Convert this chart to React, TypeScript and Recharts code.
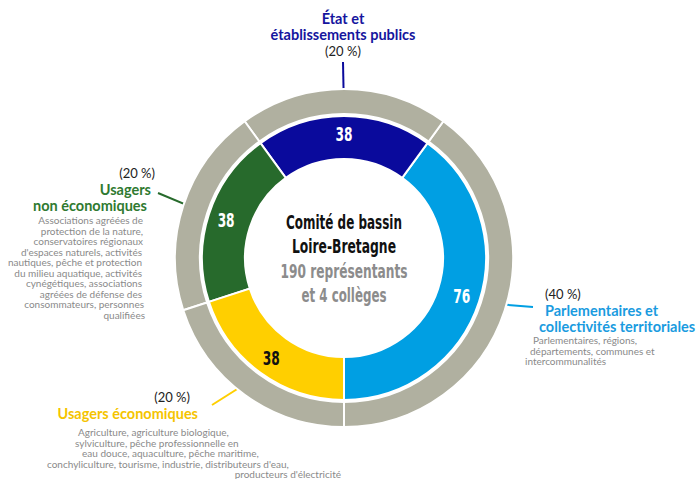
import { Cell, Customized, Pie, PieChart } from "recharts";

const groups = [
  "Parlementaires et collectivités territoriales",
  "État et établissements publics",
  "Usagers non économiques",
  "Usagers économiques",
];
const seats = [76, 38, 38, 38];
const shares = ["(40 %)", "(20 %)", "(20 %)", "(20 %)"];

const titleLines = [
  ["Parlementaires et", "collectivités territoriales"],
  ["État et", "établissements publics"],
  ["Usagers", "non économiques"],
  ["Usagers économiques"],
];

const detailLines = [
  ["Parlementaires, régions,", "départements, communes et", "intercommunalités"],
  [],
  [
    "Associations agréées de",
    "protection de la nature,",
    "conservatoires régionaux",
    "d'espaces naturels, activités",
    "nautiques, pêche et protection",
    "du milieu aquatique, activités",
    "cynégétiques, associations",
    "agréées de défense des",
    "consommateurs, personnes",
    "qualifiées",
  ],
  [
    "Agriculture, agriculture biologique,",
    "sylviculture, pêche professionnelle en",
    "eau douce, aquaculture, pêche maritime,",
    "conchyliculture, tourisme, industrie, distributeurs d'eau,",
    "producteurs d'électricité",
  ],
];

const centerLines = ["Comité de bassin", "Loire-Bretagne", "190 représentants", "et 4 collèges"];

const COLORS = ["#009fe3", "#0a0a9c", "#276a2c", "#ffcf00"];
const TITLE_COLORS = ["#1a9be0", "#15159e", "#2f7a30", "#f5c400"];
const RING = "#b0b0a0";
const NARROW = "'DejaVu Sans Condensed', 'Liberation Sans Narrow', sans-serif";
const SANS = "Lato, 'Open Sans', sans-serif";
const CX = 344;
const CY = 258;
const RAD = Math.PI / 180;
// largeurs mesurées des lignes centrales (police condensée)
const CENTER_WIDTHS = [116, 104, 127, 85];

const data = groups.map((g, i) => ({ name: g, value: seats[i] }));

function polar(angle: number, r: number) {
  return [CX + r * Math.cos(-angle * RAD), CY + r * Math.sin(-angle * RAD)];
}

// angles médians des secteurs (départ en bas, sens antihoraire)
function midAngles() {
  const total = seats.reduce((a, b) => a + b, 0);
  let start = -90;
  return seats.map((v) => {
    const span = (v / total) * 360;
    const m = start + span / 2;
    start += span;
    return m;
  });
}

const renderSeat = (p: any) => {
  const r = p.innerRadius + (p.outerRadius - p.innerRadius) * 0.58;
  const x = p.cx + r * Math.cos(-p.midAngle * RAD);
  const y = p.cy + r * Math.sin(-p.midAngle * RAD);
  const dark = p.payload && p.payload.name === "Usagers économiques";
  const w = String(p.value).length * 8.5;
  return (
    <text
      x={x}
      y={y}
      textAnchor="middle"
      dominantBaseline="central"
      fill={dark ? "#111" : "#fff"}
      fontSize={19}
      fontWeight={700}
      fontFamily={NARROW}
      textLength={w}
      lengthAdjust="spacingAndGlyphs"
    >
      {p.value}
    </text>
  );
};

const BLOCKS = [
  { tip: [533, 307], x: 545, y: 294, anchor: "start", titleDx: [0, -6], dx: [-12, -15, -20], dy: 340 },
  { tip: [343, 62], x: 343, y: 18, anchor: "middle", titleDx: [0, 0], dx: [], dy: 0 },
  { tip: [158, 193], x: 155, y: 173, anchor: "end", titleDx: [-4, -8], dx: [-12, -12, -12, -13, -13, -13, -13, -13, -11, -10], dy: 220 },
  { tip: [212, 405], x: 190, y: 397, anchor: "end", titleDx: [8], dx: [78, 75, 82, 47, 341], dy: 432 },
];

function Annotations() {
  const mids = midAngles();
  return (
    <g>
      {BLOCKS.map((b, i) => {
        const [sx, sy] = polar(mids[i], 145);
        return (
          <line
            key={`l${i}`}
            x1={sx}
            y1={sy}
            x2={b.tip[0]}
            y2={b.tip[1]}
            stroke={COLORS[i]}
            strokeWidth={2}
          />
        );
      })}
      {BLOCKS.map((b, i) => {
        const top = i === 1;
        const bottom = i === 3;
        const titleY = top ? b.y : b.y + 16;
        const shareY = top ? b.y + 33 : b.y;
        return (
          <g key={`b${i}`} fontFamily={SANS}>
            <text x={b.x} y={shareY} textAnchor={b.anchor} dominantBaseline="central" fontSize={13} fill="#222">
              {shares[i]}
            </text>
            {titleLines[i].map((t, k) => (
              <text
                key={k}
                x={b.x + b.titleDx[k]}
                y={titleY + k * 16}
                textAnchor={b.anchor}
                dominantBaseline="central"
                fontSize={14.5}
                fontWeight={700}
                fill={TITLE_COLORS[i]}
              >
                {t}
              </text>
            ))}
            {detailLines[i].map((t, k) => (
              <text
                key={`d${k}`}
                x={bottom ? b.dx[k] : b.x + b.dx[k]}
                y={b.dy + k * 10.5}
                textAnchor={bottom ? (k === 4 ? "end" : "start") : b.anchor}
                dominantBaseline="central"
                fontSize={10}
                fill="#8a8a8a"
              >
                {t}
              </text>
            ))}
          </g>
        );
      })}
      {centerLines.map((t, k) => (
        <text
          key={`c${k}`}
          x={CX}
          y={222 + k * 24.3}
          textAnchor="middle"
          dominantBaseline="central"
          fontSize={19}
          fontWeight={700}
          fontFamily={NARROW}
          textLength={CENTER_WIDTHS[k]}
          lengthAdjust="spacingAndGlyphs"
          fill={k < 2 ? "#111" : "#8c8c8c"}
        >
          {t}
        </text>
      ))}
    </g>
  );
}

export default function App() {
  return (
    <div style={{ position: "absolute", left: 0, top: 0, width: 697, height: 479, background: "#fff" }}>
      <PieChart width={697} height={479} margin={{ top: 0, right: 0, bottom: 0, left: 0 }}>
        <Pie
          data={data}
          dataKey="value"
          cx={CX}
          cy={CY}
          startAngle={-90}
          endAngle={270}
          innerRadius={144}
          outerRadius={169}
          stroke="#fff"
          strokeWidth={2}
          isAnimationActive={false}
        >
          {data.map((d) => (
            <Cell key={d.name} fill={RING} />
          ))}
        </Pie>
        <Pie
          data={data}
          dataKey="value"
          cx={CX}
          cy={CY}
          startAngle={-90}
          endAngle={270}
          innerRadius={99}
          outerRadius={142}
          stroke="#fff"
          strokeWidth={2}
          label={renderSeat}
          labelLine={false}
          isAnimationActive={false}
        >
          {data.map((d, i) => (
            <Cell key={d.name} fill={COLORS[i]} />
          ))}
        </Pie>
        <Customized component={<Annotations />} />
      </PieChart>
    </div>
  );
}
